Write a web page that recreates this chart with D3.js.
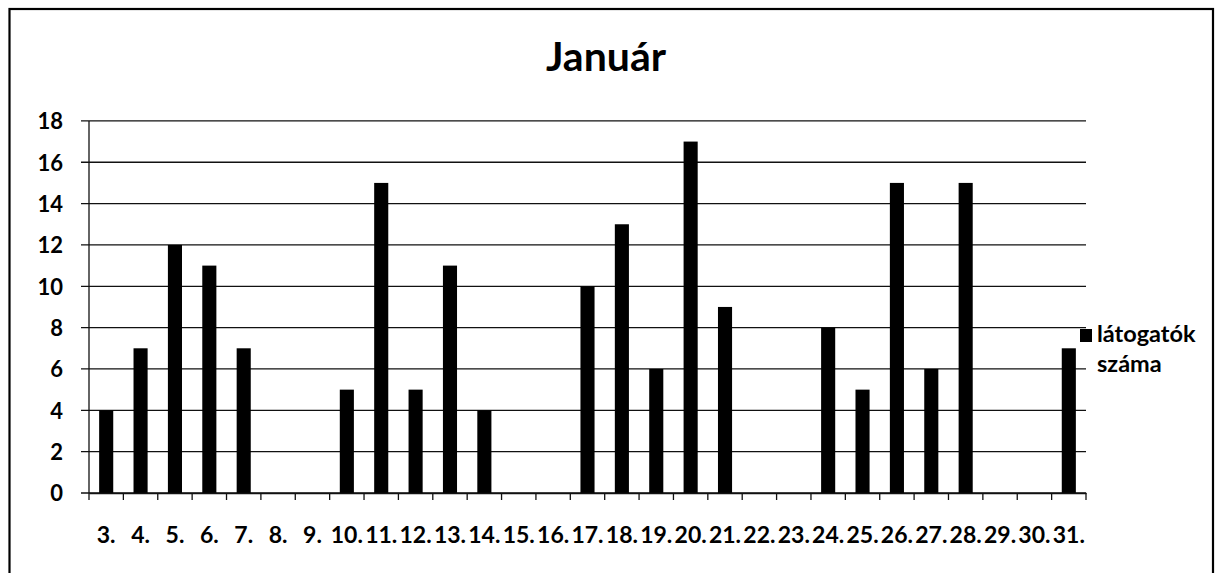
<!DOCTYPE html>
<html><head><meta charset="utf-8">
<script src="https://cdn.jsdelivr.net/npm/d3@7"></script>
<style>
html,body{margin:0;padding:0;background:#fff;}
svg{display:block;}
text{font-family:Lato,"Open Sans",sans-serif;font-weight:bold;fill:#000;}
</style></head>
<body>
<svg id="chart" width="1216" height="573"></svg>
<script>
const categories = ["3.","4.","5.","6.","7.","8.","9.","10.","11.","12.","13.","14.","15.","16.","17.","18.","19.","20.","21.","22.","23.","24.","25.","26.","27.","28.","29.","30.","31."];
const visitors = [4,7,12,11,7,0,0,5,15,5,11,4,0,0,10,13,6,17,9,0,0,8,5,15,6,15,0,0,7];
const yTicks = [0,2,4,6,8,10,12,14,16,18];
const title = "Január";
const seriesName = ["látogatók", "száma"];

const svg = d3.select("#chart");
const L = 89, R = 1086, T = 120.9, B = 493;

// frame
svg.append("rect").attr("x",9.5).attr("y",9).attr("width",1203.5).attr("height",600)
  .attr("fill","none").attr("stroke","#000").attr("stroke-width",2.2);

const x = d3.scaleBand().domain(categories).range([L,R]).paddingInner(0.59).paddingOuter(0.295);
const y = d3.scaleLinear().domain([0,18]).range([B,T]);

// gridlines
svg.append("g").selectAll("line").data(yTicks).join("line")
  .attr("x1",81).attr("x2",R).attr("y1",d=>y(d)).attr("y2",d=>y(d))
  .attr("stroke","#111").attr("stroke-width",1.3);

// y axis
const yAxis = svg.append("g").attr("transform",`translate(${L},0)`)
  .call(d3.axisLeft(y).tickValues(yTicks).tickSize(0).tickPadding(26));
yAxis.select(".domain").remove();
yAxis.selectAll("text").style("font-size","22px").attr("dy","0.36em");
svg.append("line").attr("x1",L).attr("x2",L).attr("y1",T).attr("y2",B)
  .attr("stroke","#111").attr("stroke-width",1.3);

// bars
svg.append("g").selectAll("rect").data(categories).join("rect")
  .attr("x",d=>x(d)).attr("width",x.bandwidth())
  .attr("y",(d,i)=>y(visitors[i])).attr("height",(d,i)=>B-y(visitors[i]))
  .attr("fill","#000");

// x axis boundary ticks
const step = x.step();
const bounds = d3.range(categories.length+1).map(i=>L + i*step);
svg.append("g").selectAll("line").data(bounds).join("line")
  .attr("x1",d=>d).attr("x2",d=>d).attr("y1",B).attr("y2",B+7)
  .attr("stroke","#111").attr("stroke-width",1.3);

const xAxis = svg.append("g").attr("transform",`translate(0,${B})`)
  .call(d3.axisBottom(x).tickSize(0).tickPadding(34));
xAxis.select(".domain").attr("stroke","#111").attr("stroke-width",1.3);
xAxis.selectAll("text").style("font-size","23px");

// title
svg.append("text").attr("x",606).attr("y",71).attr("text-anchor","middle")
  .style("font-size","41px").text(title);

// legend
svg.append("rect").attr("x",1080).attr("y",329).attr("width",12).attr("height",13).attr("fill","#000");
svg.append("text").attr("x",1097).attr("y",342).style("font-size","23.5px").text(seriesName[0]);
svg.append("text").attr("x",1097).attr("y",372).style("font-size","23.5px").text(seriesName[1]);
</script>
</body></html>
